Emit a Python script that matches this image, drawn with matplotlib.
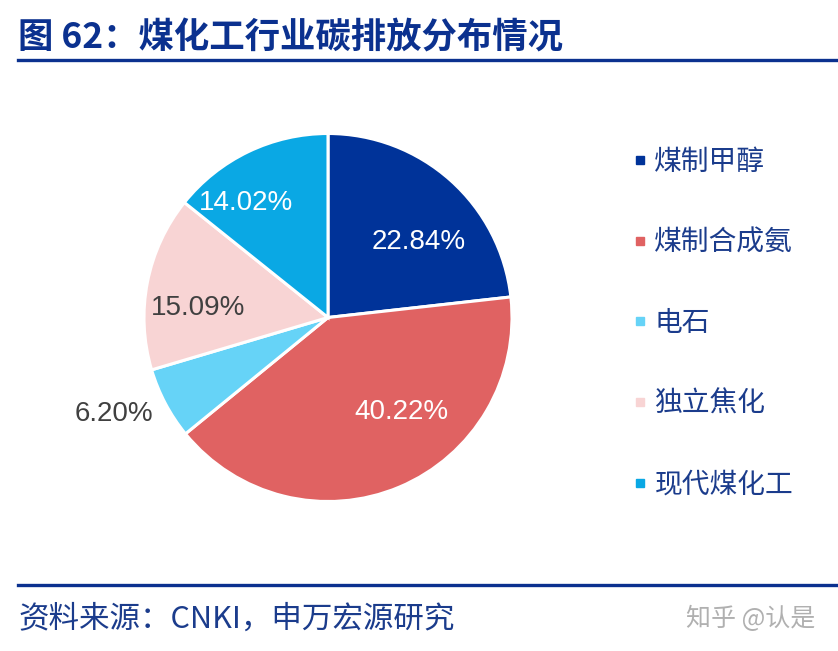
import numpy as np
import matplotlib
matplotlib.use("Agg")
from matplotlib import pyplot as plt
from matplotlib.lines import Line2D

############################################
###  data
############################################

categories = ["煤制甲醇", "煤制合成氨", "电石", "独立焦化", "现代煤化工"]
shares = [22.84, 40.22, 6.20, 15.09, 14.02]
colors = ["#003399", "#E06262", "#66D3F7", "#F8D4D4", "#0AA8E4"]
label_colors = ["white", "white", "#404040", "#404040", "white"]
# where the percent labels sit (pie radius = 1)
label_pos = [(0.495, 0.408), (0.397, -0.516), (-1.163, -0.522), (-0.707, 0.054), (-0.446, 0.62)]

title = "图 62：煤化工行业碳排放分布情况"
source = "资料来源：CNKI，申万宏源研究"
watermark = "知乎 @认是"

navy = "#0B318F"
text_blue = "#1B3C8C"

plt.rcParams['font.family'] = ['Noto Sans CJK SC', 'DejaVu Sans']

W, H = 838, 651
fig = plt.figure(figsize=(W / 100, H / 100), dpi=100)

############################################
###  pie
############################################

cx, cy, R = 328, 317.5, 184          ### pie centre and radius in pixels
ax = fig.add_axes([(cx - R) / W, (H - cy - R) / H, 2 * R / W, 2 * R / H])
wedges, texts, autotexts = ax.pie(shares, colors=colors, startangle=90, counterclock=False,
                                  radius=1, autopct="%.2f%%",
                                  wedgeprops=dict(edgecolor="white", linewidth=2.2))
### labels show the raw shares (they don't add up to exactly 100)
for t, v, c, p in zip(autotexts, shares, label_colors, label_pos):
    t.set_text(f"{v:.2f}%")
    t.set_position(p)
    t.set_color(c)
    t.set_fontsize(20)
    t.set_family(["Liberation Sans", "DejaVu Sans"])
    t.set_ha("center")
    t.set_va("center")
ax.set_xlim(-1, 1)
ax.set_ylim(-1, 1)
ax.axis("off")

############################################
###  legend
############################################

handles = [Line2D([], [], marker="s", linestyle="none", markersize=6,
                  markerfacecolor=c, markeredgecolor=c) for c in colors]
leg = fig.legend(handles, categories, loc="upper left",
                 bbox_to_anchor=(621 / W, 1 - 136 / H), frameon=False,
                 fontsize=20, labelspacing=1.82, handlelength=0.6,
                 handletextpad=0.2, borderaxespad=0)
for t in leg.get_texts():
    t.set_color(text_blue)

############################################
###  title, rules, source
############################################

fig.text(18 / W, 1 - 38 / H, title, fontsize=25.5, fontweight="bold", color=navy,
         ha="left", va="center")
fig.add_artist(Line2D([18 / W, 1], [1 - 60 / H, 1 - 60 / H], color=navy, linewidth=2.4))
fig.add_artist(Line2D([18 / W, 1], [1 - 585 / H, 1 - 585 / H], color=navy, linewidth=2.4))
fig.text(18 / W, 1 - 619 / H, source, fontsize=22, color=text_blue, ha="left", va="center")
fig.text(815 / W, 1 - 619 / H, watermark, fontsize=18, color="#B0B0B0", ha="right", va="center")

fig.savefig("out.png", dpi=100)
